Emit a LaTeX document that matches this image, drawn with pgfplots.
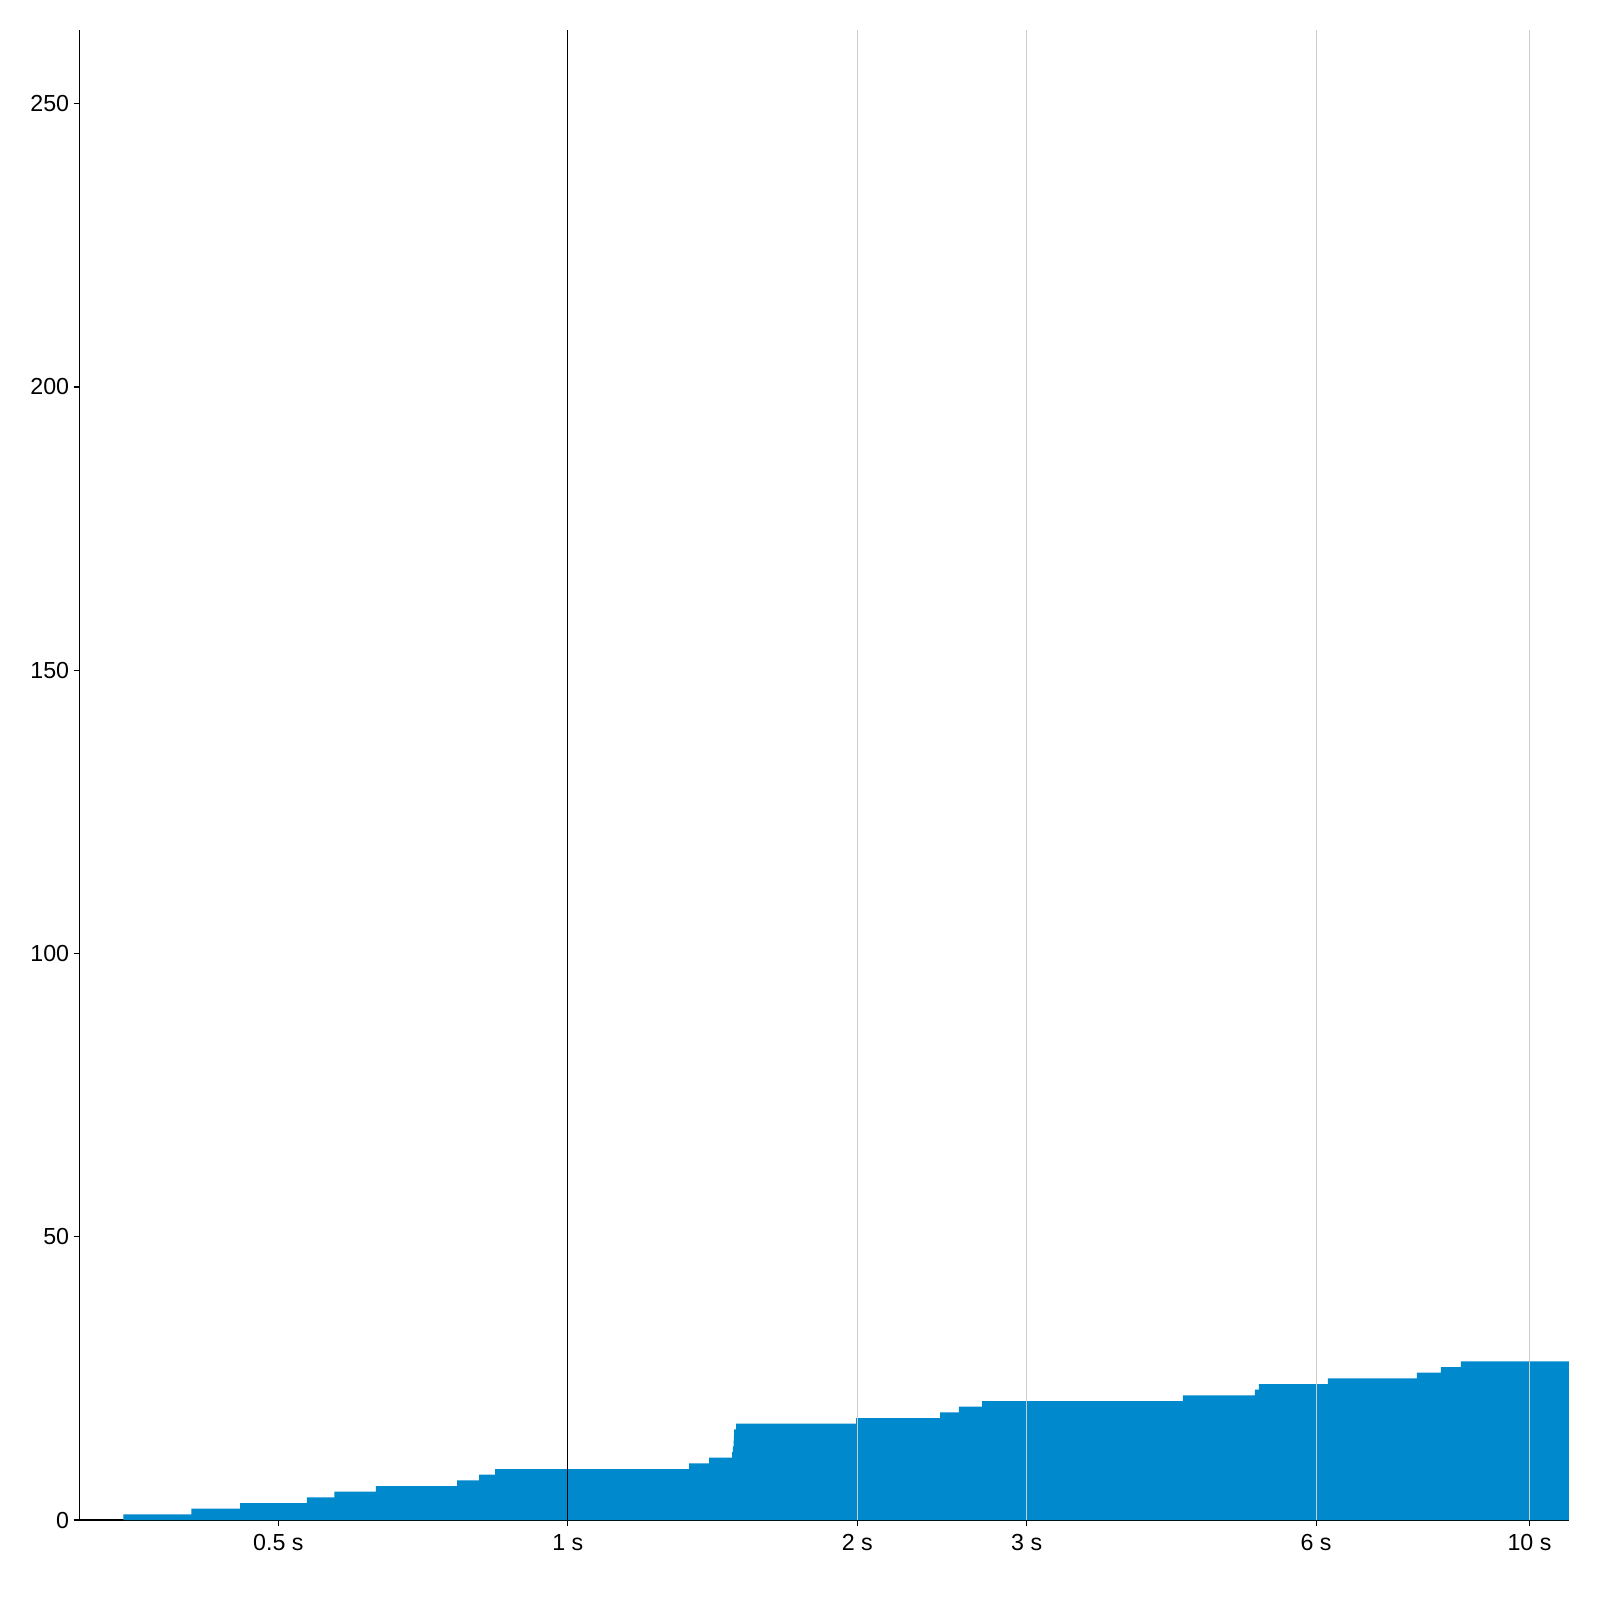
\documentclass[border=0pt]{standalone}
\usepackage{fontspec}
\setmainfont{Liberation Sans}
\usepackage{pgfplots}
\pgfplotsset{compat=1.18}
\definecolor{fillblue}{RGB}{0,137,204}
\definecolor{gridgray}{RGB}{205,205,205}
\begin{document}
\begin{tikzpicture}
\begin{axis}[
  name=ax, scale only axis, width=603.3pt, height=603.5pt,
  xmode=log, xmin=0.3106, xmax=10.99, ymin=0, ymax=263,
  axis lines=left, axis line style={-, line width=0.55pt},
  xtick={0.5,1,2,3,6,10}, xticklabels={0.5 s,1 s,2 s,3 s,6 s,10 s},
  ytick={0,50,100,150,200,250},
  xminorticks=false, yminorticks=false,
  tick align=outside, major tick length=2.4pt,
  tick style={black, line width=0.5pt},
  ticklabel style={font=\fontsize{9.4}{11}\selectfont},
  yticklabel style={inner sep=1.6pt},
  /pgf/number format/assume math mode=true,
  clip=false,
]
\addplot[const plot, fill=fillblue, draw=none] coordinates {
(0.3450,1) (0.4059,2) (0.4562,3) (0.5354,4) (0.5719,5) (0.6317,6)
(0.7672,7) (0.8088,8) (0.8404,9) (1.3368,10) (1.4024,11) (1.4818,12)
(1.4850,13) (1.4870,14) (1.4880,15) (1.4889,16) (1.4960,17) (1.995,18)
(2.438,19) (2.551,20) (2.696,21) (4.362,22) (5.182,23) (5.232,24)
(6.170,25) (7.636,26) (8.087,27) (8.483,28) (10.99,28)
} \closedcycle;
\draw[black, line width=0.5pt] (axis cs:1,0) -- (axis cs:1,263);
\draw[gridgray, line width=0.45pt] (axis cs:2,0) -- (axis cs:2,263);
\draw[gridgray, line width=0.45pt] (axis cs:3,0) -- (axis cs:3,263);
\draw[gridgray, line width=0.45pt] (axis cs:6,0) -- (axis cs:6,263);
\draw[gridgray, line width=0.45pt] (axis cs:10,0) -- (axis cs:10,263);
\end{axis}
\path ([xshift=-32.2pt,yshift=-32.4pt]ax.south west) rectangle ([xshift=12.6pt,yshift=12.2pt]ax.north east);
\end{tikzpicture}
\end{document}
